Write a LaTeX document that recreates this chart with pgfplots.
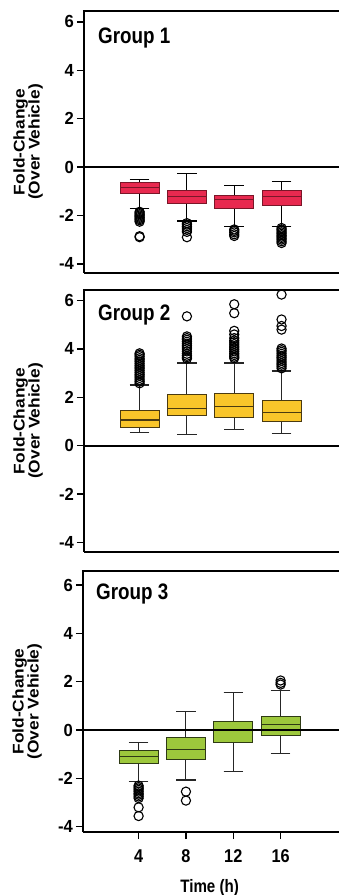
\documentclass[border=0pt]{standalone}
\usepackage{fontspec}
\setmainfont{Liberation Sans}[FakeStretch=0.84]
\newfontfamily\ylabfont{Liberation Sans}[FakeStretch=1.12]
\newfontfamily\ytfont{Liberation Sans}[FakeStretch=0.95]
\newfontfamily\xtfont{Liberation Sans}[FakeStretch=0.88]
\usepackage{pgfplots}
\pgfplotsset{compat=1.18}
\usepgfplotslibrary{statistics}
\definecolor{cred}{HTML}{E8294F}
\definecolor{credd}{HTML}{7A1628}
\definecolor{cyel}{HTML}{F9C52A}
\definecolor{cyeld}{HTML}{4A3A10}
\definecolor{cgrn}{HTML}{9DC83C}
\definecolor{cgrnd}{HTML}{2E3A14}
\tikzset{grp/.style={anchor=base west, inner sep=0pt, font=\fontsize{22.4}{24}\selectfont\bfseries},
  topline/.style={line width=2pt, black}}
\pgfplotsset{
 panel/.style={
  scale only axis, width=256pt, height=262pt,
  xmin=-0.7, xmax=20.94,
  axis y line=left, axis x line=bottom,
  axis line style={line width=2pt, -},
  ytick={-4,-2,0,2,4,6},
  yticklabels={-4,-2,0,2,4,6},
  xtick=\empty,
  tick align=outside,
  major tick length=7pt,
  tick style={line width=1.5pt, black},
  yticklabel style={font=\ytfont\fontsize{17.5}{18}\selectfont\bfseries, inner sep=3pt},
  xticklabel style={font=\xtfont\fontsize{18.5}{20}\selectfont\bfseries, yshift=-7pt},
  ylabel={Fold-Change\\(Over Vehicle)},
  ylabel style={font=\ylabfont\fontsize{15.5}{15}\selectfont\bfseries, align=center,
    at={([xshift=-41pt]axis description cs:0,0.5)}, anchor=south, inner sep=0pt},
  clip=false,
  boxplot/draw direction=y,
  boxplot/box extend=3.3,
  boxplot/whisker extend=1.65,
 },
 outl/.style={only marks, mark=o, mark size=4.6pt, mark options={line width=1.1pt, black}},
 zero/.style={line width=2pt, black},
}
\begin{document}
\begin{tikzpicture}
\useasboundingbox (0,0) rectangle (339pt,895pt);
\clip (0,0) rectangle (339pt,895pt);
% ---------------- Panel 1 ----------------
\begin{axis}[panel, at={(84pt,622pt)}, anchor=south west, ymin=-4.38, ymax=6.45,
  boxplot/every whisker/.style={black, line width=1.1pt},
  boxplot/every median/.style={credd, line width=1.1pt}]
\addplot[boxplot prepared={draw position=4, lower whisker=-1.71, lower quartile=-1.09, median=-0.84, upper quartile=-0.63, upper whisker=-0.5}, fill=cred, draw=credd, line width=0.9pt] coordinates {};
\addplot[boxplot prepared={draw position=8, lower whisker=-2.23, lower quartile=-1.5, median=-1.23, upper quartile=-0.98, upper whisker=-0.28}, fill=cred, draw=credd, line width=0.9pt] coordinates {};
\addplot[boxplot prepared={draw position=12, lower whisker=-2.47, lower quartile=-1.71, median=-1.36, upper quartile=-1.16, upper whisker=-0.77}, fill=cred, draw=credd, line width=0.9pt] coordinates {};
\addplot[boxplot prepared={draw position=16, lower whisker=-2.47, lower quartile=-1.6, median=-1.23, upper quartile=-0.98, upper whisker=-0.61}, fill=cred, draw=credd, line width=0.9pt] coordinates {};
\addplot[outl] coordinates {(4,-1.85) (4,-1.9) (4,-1.95) (4,-2.0) (4,-2.05) (4,-2.1) (4,-2.15) (4,-2.2) (4,-2.26) (4,-2.86) (4,-2.9)
 (8,-2.32) (8,-2.38) (8,-2.45) (8,-2.52) (8,-2.6) (8,-2.68) (8,-2.9)
 (12,-2.58) (12,-2.64) (12,-2.7) (12,-2.78) (12,-2.85)
 (16,-2.52) (16,-2.58) (16,-2.64) (16,-2.7) (16,-2.76) (16,-2.82) (16,-2.88) (16,-2.94) (16,-3.0) (16,-3.07) (16,-3.14)};
\addplot[zero] coordinates {(-0.7,0) (20.94,0)};
\draw[topline] ([xshift=-1pt]rel axis cs:0,1) -- ([xshift=2pt]rel axis cs:1,1);
\node[grp] at ([xshift=14pt, yshift=-32pt]rel axis cs:0,1) {Group 1};
\end{axis}
% ---------------- Panel 2 ----------------
\begin{axis}[panel, at={(84pt,343pt)}, anchor=south west, ymin=-4.40, ymax=6.44,
  boxplot/every whisker/.style={black!85, line width=1.1pt},
  boxplot/every median/.style={cyeld, line width=1.1pt}]
\addplot[boxplot prepared={draw position=4, lower whisker=0.54, lower quartile=0.75, median=1.06, upper quartile=1.46, upper whisker=2.51}, fill=cyel, draw=cyeld, line width=0.9pt] coordinates {};
\addplot[boxplot prepared={draw position=8, lower whisker=0.47, lower quartile=1.23, median=1.55, upper quartile=2.13, upper whisker=3.42}, fill=cyel, draw=cyeld, line width=0.9pt] coordinates {};
\addplot[boxplot prepared={draw position=12, lower whisker=0.68, lower quartile=1.18, median=1.62, upper quartile=2.14, upper whisker=3.42}, fill=cyel, draw=cyeld, line width=0.9pt] coordinates {};
\addplot[boxplot prepared={draw position=16, lower whisker=0.51, lower quartile=0.99, median=1.38, upper quartile=1.85, upper whisker=3.09}, fill=cyel, draw=cyeld, line width=0.9pt] coordinates {};
\addplot[outl] coordinates {(4,2.58) (4,2.65) (4,2.72) (4,2.8) (4,2.88) (4,2.95) (4,3.02) (4,3.1) (4,3.18) (4,3.25) (4,3.32) (4,3.4) (4,3.48) (4,3.55) (4,3.62) (4,3.7) (4,3.76) (4,3.82)
 (8,3.6) (8,3.66) (8,3.72) (8,3.8) (8,3.9) (8,4.0) (8,4.08) (8,4.15) (8,4.22) (8,4.3) (8,4.38) (8,4.45) (8,4.52) (8,5.35)
 (12,3.62) (12,3.68) (12,3.75) (12,3.82) (12,3.9) (12,3.98) (12,4.05) (12,4.12) (12,4.2) (12,4.28) (12,4.35) (12,4.45) (12,4.6) (12,4.75) (12,5.48) (12,5.85)
 (16,3.2) (16,3.28) (16,3.35) (16,3.42) (16,3.5) (16,3.58) (16,3.65) (16,3.72) (16,3.8) (16,3.88) (16,3.95) (16,4.02) (16,4.8) (16,4.95) (16,5.22) (16,6.25)};
\addplot[zero] coordinates {(-0.7,0) (20.94,0)};
\draw[topline] ([xshift=-1pt]rel axis cs:0,1) -- ([xshift=2pt]rel axis cs:1,1);
\node[grp] at ([xshift=14pt, yshift=-31pt]rel axis cs:0,1) {Group 2};
\end{axis}
% ---------------- Panel 3 ----------------
\begin{axis}[panel, at={(83pt,63pt)}, anchor=south west, ymin=-4.22, ymax=6.58, height=261pt,
  width=257pt, xmax=21.02,
  xtick={4,8,12,16}, xticklabels={4,8,12,16},
  xlabel={Time (h)},
  xlabel style={font=\fontsize{18}{20}\selectfont\bfseries, at={(axis cs:10,-4.22)}, anchor=base, yshift=-60pt, inner sep=0pt},
  boxplot/every whisker/.style={black!85, line width=1.1pt},
  boxplot/every median/.style={cgrnd, line width=1.1pt}]
\addplot[boxplot prepared={draw position=4, lower whisker=-2.14, lower quartile=-1.38, median=-1.08, upper quartile=-0.83, upper whisker=-0.52}, fill=cgrn, draw=cgrnd, line width=0.9pt] coordinates {};
\addplot[boxplot prepared={draw position=8, lower whisker=-2.07, lower quartile=-1.2, median=-0.8, upper quartile=-0.32, upper whisker=0.76}, fill=cgrn, draw=cgrnd, line width=0.9pt] coordinates {};
\addplot[boxplot prepared={draw position=12, lower whisker=-1.72, lower quartile=-0.51, median=0.0, upper quartile=0.37, upper whisker=1.56}, fill=cgrn, draw=cgrnd, line width=0.9pt] coordinates {};
\addplot[boxplot prepared={draw position=16, lower whisker=-0.96, lower quartile=-0.21, median=0.21, upper quartile=0.58, upper whisker=1.65}, fill=cgrn, draw=cgrnd, line width=0.9pt] coordinates {};
\addplot[outl] coordinates {(4,-2.3) (4,-2.36) (4,-2.42) (4,-2.48) (4,-2.55) (4,-2.62) (4,-2.68) (4,-2.75) (4,-2.82) (4,-3.2) (4,-3.56)
 (8,-2.55) (8,-2.92)
 (16,1.88) (16,1.95) (16,2.05)};
\addplot[zero] coordinates {(-0.7,0) (21.02,0)};
\draw[topline] ([xshift=-1pt]rel axis cs:0,1) -- ([xshift=2pt]rel axis cs:1,1);
\node[grp] at ([xshift=13pt, yshift=-29pt]rel axis cs:0,1) {Group 3};
\end{axis}
\end{tikzpicture}
\end{document}
